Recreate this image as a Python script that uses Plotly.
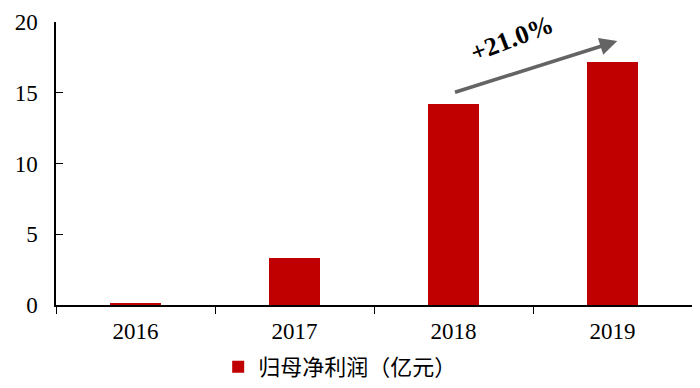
import plotly.graph_objects as go

years = ["2016", "2017", "2018", "2019"]
profit = [0.12, 3.3, 14.2, 17.2]
series_name = "归母净利润（亿元）"
growth_label = "+21.0%"
y_ticks = [0, 5, 10, 15, 20]

fig = go.Figure()
fig.add_trace(go.Bar(
    x=years, y=profit, name=series_name,
    marker=dict(color="#C00000", line=dict(width=0)),
    width=0.315,
))

fig.add_annotation(
    x=3.03, y=18.65, ax=2.0, ay=15.0,
    xref="x", yref="y", axref="x", ayref="y",
    showarrow=True, arrowhead=2, arrowsize=1, arrowwidth=3.5,
    arrowcolor="#646464", text="",
)
fig.add_annotation(
    x=2.37, y=18.8, xref="x", yref="y",
    text="<b>" + growth_label + "</b>", showarrow=False,
    textangle=-21,
    font=dict(family="Liberation Serif", size=26, color="#000000"),
)

# page body has an 8px margin, so the figure is sized to fit the 700x388 window
fig.update_layout(
    width=692, height=380,
    margin=dict(l=48, r=8, t=14, b=83, autoexpand=False),
    plot_bgcolor="white", paper_bgcolor="white",
    font=dict(family="Liberation Serif", size=23, color="#000000"),
    bargap=0,
    showlegend=True,
    legend=dict(
        orientation="h", x=0.255, xanchor="left", y=-0.219, yanchor="middle",
        font=dict(family="Noto Sans CJK SC", size=22),
        itemwidth=30,
    ),
)
fig.update_xaxes(
    type="category", showline=True, linecolor="#000000", linewidth=1.5,
    ticks="outside", ticklen=7, tickcolor="#000000", tickson="boundaries",
    showgrid=False, range=[-0.5, 3.5], automargin=False,
    ticklabelstandoff=5,
)
fig.update_yaxes(
    range=[0, 20], tickvals=y_ticks, showline=True, linecolor="#000000",
    linewidth=1.5, ticks="inside", ticklen=7, tickcolor="#000000",
    showgrid=False, zeroline=False, ticklabelstandoff=12, automargin=False,
)

fig.write_html("out.html")
